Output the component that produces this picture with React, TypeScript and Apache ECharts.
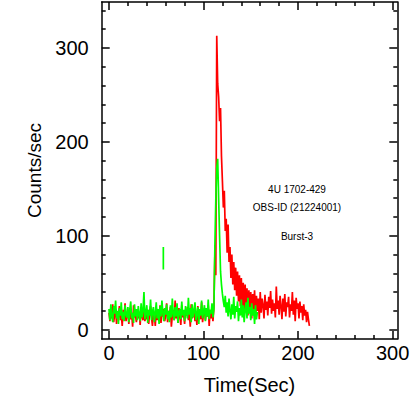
import React, { useEffect, useRef } from "react";
import * as echarts from "echarts";

// Red light curve, 1 s bins starting at t = 0 s
const redCounts = [
  18, 9, 24, 12, 27, 8, 16, 22, 6, 19,
  13, 25, 10, 17, 4, 21, 14, 28, 9, 15,
  20, 6, 23, 11, 18, 3, 26, 13, 16, 8,
  22, 12, 19, 5, 24, 14, 10, 27, 9, 17,
  11, 21, 6, 18, 25, 13, 4, 20, 15, 4,
  23, 10, 17, 12, 26, 7, 19, 14, 22, 9,
  16, 28, 8, 20, 11, 24, 3, 15, 21, 10,
  31, 12, 18, 7, 23, 14, 5, 26, 13, 17,
  6, 21, 15, 24, 10, 19, 3, 27, 12, 16,
  22, 9, 18, 5, 25, 13, 20, 11, 29, 8,
  17, 23, 10, 19, 14, 26, 4, 21, 12, 18,
  9, 24,
  80, 58, 313, 262, 248, 222, 236, 185, 158, 130,
  148, 105, 118, 82, 112, 72, 88, 55, 80, 48,
  72, 42, 66, 36, 62, 30, 58, 25, 55, 22,
  50, 18, 48, 26, 44, 15, 42, 20, 40, 12,
  38, 18, 42, 14, 36, 20, 33, 11,
  40, 18, 33, 26, 12, 37, 21, 30, 15, 35,
  23, 41, 17, 32, 20, 28, 13, 46, 22, 31,
  16, 36, 25, 11, 33, 19, 38, 14, 29, 24,
  35, 13, 27, 20, 40, 16, 31, 9, 34, 22,
  28, 12, 30, 18, 25, 10, 27, 15, 21, 8,
  19, 11, 4,
];

// Green light curve, 1 s bins starting at t = 0 s
const greenCounts = [
  22, 10, 27, 14, 8, 25, 17, 31, 12, 20,
  6, 23, 15, 29, 11, 19, 9, 26, 16, 13,
  24, 8, 21, 30, 12, 18, 7, 27, 14, 22,
  10, 25, 16, 9, 28, 13, 20, 40, 11, 18,
  26, 7, 21, 15, 32, 10, 19, 24, 8, 17,
  29, 12, 22, 6, 25, 14, 31, 18, 9, 23,
  16, 27, 11, 20, 8, 26, 13, 33, 17, 10,
  24, 14, 28, 7, 19, 22, 11, 30, 15, 21,
  9, 25, 18, 12, 34, 16, 23, 8, 27, 13,
  20, 29, 10, 17, 24, 6, 22, 15, 31, 12,
  19, 26, 9, 23, 14, 32, 11, 21, 17, 28,
  13, 22,
  88, 138, 172, 182, 140, 100, 62, 48, 38, 30,
  24, 36, 18, 29, 14, 33, 20, 11, 27, 16,
  35, 12, 25, 19, 30, 9, 23, 15, 32, 13,
  26, 8, 21, 29, 12, 34, 17, 24, 10, 28,
  15, 22, 6, 26, 11, 19,
];

// Isolated green segment near t = 57.5 s
const greenSpikeTime = [57.5, 57.5];
const greenSpikeCounts = [64, 88];

const xMajorTicks = [0, 100, 200, 300];
const xMinorTicks = [20, 40, 60, 80, 120, 140, 160, 180, 220, 240, 260, 280];
const yMajorTicks = [0, 100, 200, 300];
const yMinorTicks = [20, 40, 60, 80, 120, 140, 160, 180, 220, 240, 260, 280, 320, 340];

const xTitle = "Time(Sec)";
const yTitle = "Counts/sec";
const annotationLines = ["4U 1702-429", "OBS-ID (21224001)", "Burst-3"];

const FONT = "'Liberation Sans', Arial, Helvetica, sans-serif";
const X_MIN = -7.7;
const X_MAX = 305;
const Y_MIN = -10;
const Y_MAX = 349;

export default function App() {
  const ref = useRef<HTMLDivElement>(null);

  useEffect(() => {
    if (!ref.current) return;
    const chart = echarts.init(ref.current, null, { renderer: "svg" });
    const line = { color: "#000", width: 1.5 };

    const mkX = (pos: "top" | "bottom", major: boolean, extra: any = {}) => ({
      type: "value",
      min: X_MIN,
      max: X_MAX,
      position: pos,
      axisLine: { show: major, onZero: false, lineStyle: line },
      axisTick: {
        show: true,
        inside: true,
        length: major ? 8 : 4,
        customValues: major ? xMajorTicks : xMinorTicks,
        lineStyle: line,
      },
      axisLabel: { show: false },
      splitLine: { show: false },
      ...extra,
    });
    const mkY = (pos: "left" | "right", major: boolean, extra: any = {}) => ({
      type: "value",
      min: Y_MIN,
      max: Y_MAX,
      position: pos,
      axisLine: { show: major, onZero: false, lineStyle: line },
      axisTick: {
        show: true,
        inside: true,
        length: major ? 8 : 4,
        customValues: major ? yMajorTicks : yMinorTicks,
        lineStyle: line,
      },
      axisLabel: { show: false },
      splitLine: { show: false },
      ...extra,
    });

    const graphicTexts = annotationLines.map((t, i) => ({
      type: "text",
      x: 297,
      y: [189.5, 207.5, 236.5][i],
      style: {
        text: t,
        fill: "#000",
        font: `10px ${FONT}`,
        fontSize: 10,
        fontFamily: FONT,
        align: "center",
        verticalAlign: "middle",
      },
    }));

    chart.setOption({
      animation: false,
      backgroundColor: "#fff",
      grid: {
        left: 101.7,
        right: 17.7,
        top: 2,
        bottom: 76,
        containLabel: false,
        outerBoundsMode: "none",
      },
      xAxis: [
        mkX("bottom", true, {
          axisLabel: {
            show: true,
            customValues: xMajorTicks,
            fontSize: 20,
            fontFamily: FONT,
            color: "#000",
            margin: 4,
          },
          name: xTitle,
          nameLocation: "middle",
          nameGap: 36,
          nameTextStyle: { fontSize: 20, fontFamily: FONT, color: "#000" },
        }),
        mkX("bottom", false),
        mkX("top", true),
        mkX("top", false),
      ],
      yAxis: [
        mkY("left", true, {
          axisLabel: {
            show: true,
            customValues: yMajorTicks,
            fontSize: 20,
            fontFamily: FONT,
            color: "#000",
            margin: 13,
          },
          name: yTitle,
          nameLocation: "middle",
          nameGap: 54,
          nameTextStyle: { fontSize: 19, fontFamily: FONT, color: "#000" },
        }),
        mkY("left", false),
        mkY("right", true),
        mkY("right", false),
      ],
      series: [
        {
          type: "line",
          xAxisIndex: 0,
          yAxisIndex: 0,
          data: redCounts.map((v, i) => [i, v]),
          showSymbol: false,
          lineStyle: { color: "#ff0000", width: 1.7 },
          itemStyle: { color: "#ff0000" },
          z: 2,
        },
        {
          type: "line",
          xAxisIndex: 0,
          yAxisIndex: 0,
          data: greenCounts.map((v, i) => [i, v]),
          showSymbol: false,
          lineStyle: { color: "#00ff00", width: 1.7 },
          itemStyle: { color: "#00ff00" },
          z: 3,
        },
        {
          type: "line",
          xAxisIndex: 0,
          yAxisIndex: 0,
          data: greenSpikeTime.map((t, i) => [t, greenSpikeCounts[i]]),
          showSymbol: false,
          lineStyle: { color: "#00ff00", width: 1.7 },
          itemStyle: { color: "#00ff00" },
          z: 3,
        },
      ],
      graphic: graphicTexts,
    });

    return () => chart.dispose();
  }, []);

  return (
    <div
      ref={ref}
      style={{ position: "fixed", left: 0, top: 0, width: 415, height: 415, background: "#fff" }}
    />
  );
}
